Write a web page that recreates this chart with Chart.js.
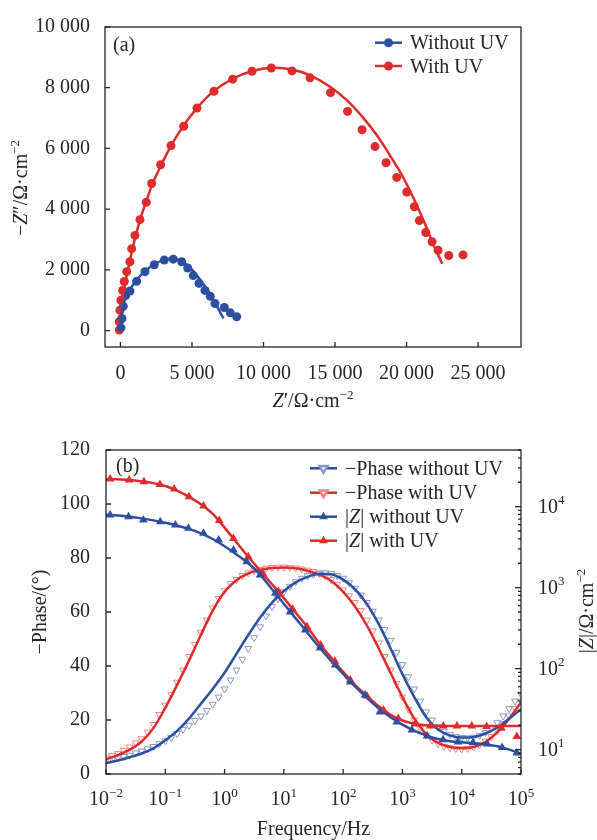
<!DOCTYPE html>
<html>
<head>
<meta charset="utf-8">
<script src="https://cdn.jsdelivr.net/npm/chart.js@4.4.0/dist/chart.umd.min.js"></script>
<style>
  body { margin: 0; background: #fff; }
  .box { position: absolute; left: 0; width: 597px; height: 420px; }
</style>
</head>
<body>
<div class="box" style="top:0"><canvas id="nyquist"></canvas></div>
<div class="box" style="top:420px"><canvas id="bode"></canvas></div>
<script>
// ---- (a) Nyquist data, ohm·cm2 ----
const withoutRe = [40, 100, 200, 360, 664, 1133, 1713, 2364, 3063, 3692, 4280, 4699, 5091, 5489, 5909, 6280, 6608, 7259, 7678, 8126];
const withoutIm = [90, 400, 800, 1150, 1301, 1626, 1941, 2169, 2322, 2354, 2267, 2062, 1811, 1561, 1324, 1128, 891, 761, 585, 455];
const withRe = [-80, -84, -35, 35, 154, 266, 434, 664, 783, 1014, 1364, 1804, 2182, 2811, 3531, 4420, 5350, 6538, 7846, 9196, 10545, 11993, 13252, 14685, 15874, 16888, 17797, 18566, 19315, 20014, 20546, 20895, 21343, 21783, 22203, 22951, 23951];
const withIm = [20, 293, 673, 998, 1324, 1616, 1941, 2267, 2699, 3135, 3655, 4228, 4845, 5463, 6094, 6732, 7330, 7883, 8283, 8543, 8651, 8553, 8325, 7838, 7219, 6614, 6062, 5528, 5047, 4566, 4078, 3623, 3233, 2927, 2647, 2472, 2494];
const withoutFitRe = [0, 80, 200, 400, 700, 1100, 1700, 2350, 3050, 3650, 4250, 4750, 5250, 5750, 6250, 6650, 6950, 7200];
const withoutFitIm = [0, 450, 850, 1150, 1380, 1650, 1950, 2180, 2330, 2370, 2300, 2120, 1870, 1560, 1220, 900, 620, 400];
const withFitRe = [0, 60, 200, 450, 750, 1050, 1400, 1800, 2250, 2850, 3550, 4400, 5350, 6500, 7800, 9200, 10600, 12000, 13300, 14600, 15800, 16900, 17900, 18800, 19700, 20500, 21300, 21900, 22500];
const withFitIm = [0, 600, 1200, 1850, 2500, 3100, 3700, 4250, 4850, 5450, 6100, 6750, 7330, 7880, 8280, 8550, 8660, 8600, 8400, 8050, 7600, 7050, 6450, 5800, 5100, 4350, 3500, 2800, 2200];
const nyqXTicks = [0, 5000, 10000, 15000, 20000, 25000];
const nyqYTicks = [0, 2000, 4000, 6000, 8000, 10000];

// ---- (b) Bode data, frequency as log10(Hz) ----
const phaseLogF = [-2, -1.9, -1.8, -1.7, -1.6, -1.5, -1.4, -1.3, -1.2, -1.1, -1, -0.9, -0.8, -0.7, -0.6, -0.5, -0.4, -0.3, -0.2, -0.1,
  0, 0.1, 0.2, 0.3, 0.4, 0.5, 0.6, 0.7, 0.8, 0.9, 1, 1.1, 1.2, 1.3, 1.4, 1.5, 1.6, 1.7, 1.8, 1.9,
  2, 2.1, 2.2, 2.3, 2.4, 2.5, 2.6, 2.7, 2.8, 2.9, 3, 3.1, 3.2, 3.3, 3.4, 3.5, 3.6, 3.7, 3.8, 3.9,
  4, 4.1, 4.2, 4.3, 4.4, 4.5, 4.6, 4.7, 4.8, 4.9, 5];
const phaseWithout = [5.0, 5.5, 6.0, 6.5, 7.0, 7.8, 8.5, 9.3, 10.2, 11.2, 12.3, 13.5, 15.0, 16.5, 18.0, 19.8, 21.5, 23.5, 25.8, 28.5,
  31.5, 34.8, 38.5, 42.5, 46.5, 50.5, 54.5, 58.5, 62.0, 65.0, 67.5, 69.5, 71.2, 72.5, 73.4, 74.0, 74.4, 74.5, 74.2, 73.5,
  72.5, 70.8, 68.8, 66.3, 63.5, 60.3, 57.0, 53.5, 49.5, 45.0, 40.5, 36.0, 31.5, 27.0, 23.0, 20.0, 17.5, 15.8, 14.6, 13.9,
  13.5, 13.4, 13.6, 14.3, 15.4, 17.0, 19.0, 21.5, 24.2, 27.0, 29.5];
const phaseWith = [6.0, 6.8, 7.6, 8.8, 10.0, 11.5, 13.0, 15.5, 18.3, 22.0, 25.5, 29.5, 34.0, 38.5, 43.5, 48.0, 52.5, 57.0, 61.5, 65.0,
  68.0, 70.5, 72.0, 73.5, 74.5, 75.3, 75.8, 76.2, 76.5, 76.6, 76.6, 76.5, 76.3, 75.9, 75.5, 75.0, 74.3, 73.3, 72.0, 70.3,
  68.2, 66.0, 63.5, 60.5, 57.0, 53.0, 48.5, 43.5, 38.5, 33.5, 28.5, 24.0, 20.0, 17.0, 14.5, 12.5, 11.2, 10.3, 9.7, 9.4,
  9.3, 9.5, 10.0, 10.8, 12.2, 13.8, 16.0, 18.7, 21.5, 24.3, 27.0];
const fitLogF = [-2, -1.8, -1.6, -1.4, -1.2, -1, -0.8, -0.6, -0.4, -0.2, 0, 0.2, 0.4, 0.6, 0.8, 1, 1.2, 1.4,
  1.6, 1.8, 2, 2.2, 2.4, 2.6, 2.8, 3, 3.2, 3.4, 3.6, 3.8, 4, 4.2, 4.4, 4.6, 4.8, 5];
const phaseWithoutFit = [4.0, 5.0, 6.2, 7.6, 9.5, 12.5, 16.0, 20.5, 26.0, 31.5, 37.5, 44.5, 51.5, 58.0, 63.5, 67.8, 71.0, 73.0,
  74.2, 74.0, 72.0, 68.5, 63.0, 55.5, 46.5, 37.0, 28.5, 21.0, 16.5, 14.3, 13.5, 13.7, 15.0, 17.2, 20.5, 24.0];
const phaseWithFit = [5.5, 7.0, 9.0, 12.0, 17.0, 24.5, 33.0, 42.0, 51.5, 60.5, 67.5, 71.8, 74.3, 75.6, 76.3, 76.5, 76.2, 75.3,
  73.8, 71.5, 67.5, 62.0, 55.0, 46.5, 37.5, 28.5, 20.5, 14.8, 11.5, 10.0, 9.5, 10.0, 11.8, 15.5, 20.5, 26.5];
const zWithoutFit = [7940, 7760, 7500, 7160, 6760, 6310, 5820, 5310, 4680, 3980, 3240, 2570, 2000, 1450, 955, 631, 417, 275,
  182, 124, 86.1, 60.3, 43.6, 32.4, 25.1, 20.4, 17.2, 15.0, 13.5, 12.7, 12.3, 12.0, 11.6, 11.0, 10.0, 8.9];
const zWithFit = [22000, 21700, 21300, 20500, 19500, 18000, 15800, 13200, 10700, 8130, 5500, 3630, 2400, 1620, 1100, 741, 490, 324,
  204, 136, 91.2, 63.1, 46.2, 34.3, 26.9, 22.9, 20.9, 20.0, 19.6, 19.5, 19.5, 19.5, 19.5, 19.5, 19.5, 19.5];
const zWithoutLogF = [-1.93, -1.62, -1.37, -1.085, -0.83, -0.61, -0.355, -0.1, 0.15, 0.375, 0.6, 0.855, 1.105, 1.36, 1.61, 1.865,
  2.12, 2.37, 2.62, 2.905, 3.16, 3.415, 3.685, 3.94, 4.19, 4.43, 4.68, 4.93];
const zWithout = [7890, 7520, 6840, 6520, 5930, 5400, 4690, 3870, 2910, 2090, 1430, 851, 501, 300, 180, 111,
  68.4, 47.2, 29.1, 21.9, 17.5, 14.7, 13.2, 12.4, 12.2, 11.7, 10.6, 9.1];
const zWithLogF = [-1.93, -1.61, -1.36, -1.09, -0.85, -0.6, -0.355, -0.09, 0.15, 0.4, 0.65, 0.91, 1.15, 1.39, 1.62, 1.86,
  2.12, 2.4, 2.68, 2.93, 3.21, 3.47, 3.69, 3.92, 4.17, 4.42, 4.67, 4.93];
const zWith = [21900, 21300, 20300, 18700, 16500, 13200, 10200, 6760, 4040, 2410, 1470, 891, 537, 329, 196, 123,
  72.4, 45.9, 30.8, 24.3, 20.7, 19.6, 19.5, 19.5, 19.5, 19.3, 18.4, 14.5];
const freqTicks = [0.01, 0.1, 1, 10, 100, 1000, 10000, 100000];
const phaseTicks = [0, 20, 40, 60, 80, 100, 120];
const zTicks = [10, 100, 1000, 10000];

const BLUE = '#2c4f9f';
const RED = '#de2b2b';
const BLUE_OPEN = '#8797c8';
const RED_OPEN = '#ef8585';
const INK = '#262626';
const FONT = '"Liberation Serif", "Times New Roman", serif';
const FS = 20;

function pts(xs, ys, fx) {
  return xs.map((v, i) => ({ x: fx ? fx(v) : v, y: ys[i] }));
}
const pow10 = v => Math.pow(10, v);

function fmtThousands(v) {
  return String(v).replace(/\B(?=(\d{3})+(?!\d))/g, ' ');
}

// text with italic / superscript pieces
function fontOf(kind, size) {
  if (kind === 'i') return 'italic ' + size + 'px ' + FONT;
  if (kind === 's') return Math.round(size * 0.65) + 'px ' + FONT;
  return size + 'px ' + FONT;
}
function drawRich(ctx, parts, x, y, align, rot) {
  ctx.save();
  ctx.translate(x, y);
  if (rot) ctx.rotate(rot);
  ctx.fillStyle = INK;
  ctx.textBaseline = 'alphabetic';
  ctx.textAlign = 'left';
  let w = 0;
  parts.forEach(p => { ctx.font = fontOf(p[1], FS); w += ctx.measureText(p[0]).width; });
  let cx = align === 'center' ? -w / 2 : align === 'right' ? -w : 0;
  parts.forEach(p => {
    ctx.font = fontOf(p[1], FS);
    ctx.fillText(p[0], cx, p[1] === 's' ? -FS * 0.42 : 0);
    cx += ctx.measureText(p[0]).width;
  });
  ctx.restore();
}

function legendRow(ctx, x, y, color, marker, parts) {
  ctx.save();
  ctx.strokeStyle = color;
  ctx.lineWidth = 2.5;
  ctx.beginPath();
  ctx.moveTo(x, y);
  ctx.lineTo(x + 27, y);
  ctx.stroke();
  ctx.fillStyle = marker.fill;
  ctx.strokeStyle = marker.stroke;
  Chart.helpers.drawPoint(ctx, marker, x + 13.5, y);
  ctx.restore();
  drawRich(ctx, parts, x + 35, y + 6.5, 'left');
}

function frame(ctx, a) {
  ctx.strokeStyle = INK;
  ctx.lineWidth = 1.3;
  ctx.strokeRect(a.left, a.top, a.right - a.left, a.bottom - a.top);
}

Chart.defaults.font.family = FONT;
Chart.defaults.font.size = FS;
Chart.defaults.color = INK;

// ---------------- (a) ----------------
const nyquistDeco = {
  id: 'nyquistDeco',
  afterDraw(chart) {
    const { ctx, chartArea: a, scales: { x, y } } = chart;
    ctx.save();
    frame(ctx, a);
    ctx.beginPath();
    nyqXTicks.forEach(v => { const p = x.getPixelForValue(v); ctx.moveTo(p, a.bottom); ctx.lineTo(p, a.bottom - 5); });
    nyqYTicks.forEach(v => { const p = y.getPixelForValue(v); ctx.moveTo(a.left, p); ctx.lineTo(a.left + 5, p); });
    ctx.stroke();
    ctx.restore();

    drawRich(ctx, [['(a)', '']], a.left + 8, 51, 'left');
    legendRow(ctx, 375, 42.7, BLUE, { pointStyle: 'circle', radius: 4.5, borderWidth: 0, fill: BLUE, stroke: BLUE }, [['Without UV', '']]);
    legendRow(ctx, 375, 66, RED, { pointStyle: 'circle', radius: 4.5, borderWidth: 0, fill: RED, stroke: RED }, [['With UV', '']]);

    drawRich(ctx, [['Z', 'i'], ['′/Ω·cm', ''], ['−2', 's']], (a.left + a.right) / 2, 407, 'center');
    drawRich(ctx, [['−', ''], ['Z', 'i'], ['″/Ω·cm', ''], ['−2', 's']], 27, 188, 'center', -Math.PI / 2);
  }
};

new Chart(document.getElementById('nyquist'), {
  type: 'scatter',
  data: {
    datasets: [
      { label: 'Without UV fit', data: pts(withoutFitRe, withoutFitIm), showLine: true, pointRadius: 0,
        borderColor: BLUE, borderWidth: 2.5, tension: 0.4, order: 1 },
      { label: 'With UV fit', data: pts(withFitRe, withFitIm), showLine: true, pointRadius: 0,
        borderColor: RED, borderWidth: 2.5, tension: 0.4, order: 1 },
      { label: 'Without UV', data: pts(withoutRe, withoutIm), pointRadius: 4.5, borderWidth: 0,
        backgroundColor: BLUE, order: 2 },
      { label: 'With UV', data: pts(withRe, withIm), pointRadius: 4.5, borderWidth: 0,
        backgroundColor: RED, order: 2 }
    ]
  },
  options: {
    responsive: true,
    maintainAspectRatio: false,
    animation: false,
    layout: { padding: { top: 23, right: 76, bottom: 23, left: 0 } },
    plugins: { legend: { display: false }, tooltip: { enabled: false } },
    scales: {
      x: {
        type: 'linear', min: -1080, max: 28000,
        grid: { display: false, drawTicks: false }, border: { display: false },
        afterBuildTicks: s => { s.ticks = nyqXTicks.map(v => ({ value: v })); },
        afterFit: s => { s.height = 50; },
        ticks: { autoSkip: false, maxRotation: 0, padding: 15, callback: v => fmtThousands(v) }
      },
      y: {
        type: 'linear', min: -540, max: 10000,
        grid: { display: false, drawTicks: false }, border: { display: false },
        afterBuildTicks: s => { s.ticks = nyqYTicks.map(v => ({ value: v })); },
        afterFit: s => { s.width = 105; },
        ticks: { autoSkip: false, padding: 15, callback: v => fmtThousands(v) }
      }
    }
  },
  plugins: [nyquistDeco]
});

// ---------------- (b) ----------------
const bodeDeco = {
  id: 'bodeDeco',
  afterDraw(chart) {
    const { ctx, chartArea: a, scales: { x, y, y2 } } = chart;
    ctx.save();
    frame(ctx, a);
    ctx.beginPath();
    freqTicks.forEach(v => { const p = x.getPixelForValue(v); ctx.moveTo(p, a.bottom); ctx.lineTo(p, a.bottom - 5); });
    phaseTicks.forEach(v => { const p = y.getPixelForValue(v); ctx.moveTo(a.left, p); ctx.lineTo(a.left + 5, p); });
    for (let e = 0; e <= 4; e++) {
      for (let m = 1; m <= 9; m++) {
        const v = m * Math.pow(10, e);
        if (v < y2.min || v > y2.max) continue;
        const p = y2.getPixelForValue(v);
        ctx.moveTo(a.right, p);
        ctx.lineTo(a.right - (m === 1 ? 6 : 3), p);
      }
    }
    ctx.stroke();
    ctx.restore();

    freqTicks.forEach(v => {
      const e = Math.round(Math.log10(v));
      drawRich(ctx, [['10', ''], [(e < 0 ? '−' : '') + Math.abs(e), 's']], x.getPixelForValue(v), 385, 'center');
    });
    zTicks.forEach(v => {
      const e = Math.round(Math.log10(v));
      drawRich(ctx, [['10', ''], [String(e), 's']], 538, y2.getPixelForValue(v) + 6, 'left');
    });

    drawRich(ctx, [['(b)', '']], a.left + 10, 52, 'left');
    const openDown = c => ({ pointStyle: 'triangle', rotation: 180, radius: 4.5, borderWidth: 1.2, fill: '#fff', stroke: c });
    const fillUp = c => ({ pointStyle: 'triangle', rotation: 0, radius: 5, borderWidth: 0, fill: c, stroke: c });
    legendRow(ctx, 310, 48.3, BLUE, openDown(BLUE_OPEN), [['−Phase without UV', '']]);
    legendRow(ctx, 310, 72.7, RED, openDown(RED_OPEN), [['−Phase with UV', '']]);
    legendRow(ctx, 310, 96.7, BLUE, fillUp(BLUE), [['|', ''], ['Z', 'i'], ['| without UV', '']]);
    legendRow(ctx, 310, 120.7, RED, fillUp(RED), [['|', ''], ['Z', 'i'], ['| with UV', '']]);

    drawRich(ctx, [['Frequency/Hz', '']], (a.left + a.right) / 2, 415, 'center');
    drawRich(ctx, [['−Phase/(°)', '']], 46, 192, 'center', -Math.PI / 2);
    drawRich(ctx, [['|', ''], ['Z', 'i'], ['|/Ω·cm', ''], ['−2', 's']], 593, 191, 'center', -Math.PI / 2);
  }
};

const openTri = c => ({ showLine: false, pointStyle: 'triangle', rotation: 180, pointRadius: 4,
  pointBorderWidth: 1, pointBorderColor: c, pointBackgroundColor: 'rgba(255,255,255,0)' });
const fitLine = c => ({ showLine: true, pointRadius: 0, borderColor: c, borderWidth: 2.5,
  cubicInterpolationMode: 'monotone' });
const filledTri = c => ({ showLine: false, pointStyle: 'triangle', pointRadius: 5,
  pointBorderWidth: 0, pointBackgroundColor: c });

new Chart(document.getElementById('bode'), {
  type: 'scatter',
  data: {
    datasets: [
      Object.assign({ label: '−Phase without UV', data: pts(phaseLogF, phaseWithout, pow10), yAxisID: 'y', order: 4 }, openTri(BLUE_OPEN)),
      Object.assign({ label: '−Phase with UV', data: pts(phaseLogF, phaseWith, pow10), yAxisID: 'y', order: 4 }, openTri(RED_OPEN)),
      Object.assign({ label: 'phase fit without', data: pts(fitLogF, phaseWithoutFit, pow10), yAxisID: 'y', order: 3 }, fitLine(BLUE)),
      Object.assign({ label: 'phase fit with', data: pts(fitLogF, phaseWithFit, pow10), yAxisID: 'y', order: 3 }, fitLine(RED)),
      Object.assign({ label: '|Z| fit without', data: pts(fitLogF, zWithoutFit, pow10), yAxisID: 'y2', order: 2 }, fitLine(BLUE)),
      Object.assign({ label: '|Z| fit with', data: pts(fitLogF, zWithFit, pow10), yAxisID: 'y2', order: 2 }, fitLine(RED)),
      Object.assign({ label: '|Z| without UV', data: pts(zWithoutLogF, zWithout, pow10), yAxisID: 'y2', order: 1 }, filledTri(BLUE)),
      Object.assign({ label: '|Z| with UV', data: pts(zWithLogF, zWith, pow10), yAxisID: 'y2', order: 1 }, filledTri(RED))
    ]
  },
  options: {
    responsive: true,
    maintainAspectRatio: false,
    animation: false,
    layout: { padding: { top: 30, right: 0, bottom: 16, left: 0 } },
    plugins: { legend: { display: false }, tooltip: { enabled: false } },
    scales: {
      x: {
        type: 'logarithmic', min: 0.01, max: 100000,
        grid: { display: false, drawTicks: false }, border: { display: false },
        afterFit: s => { s.height = 50; },
        ticks: { display: false }
      },
      y: {
        type: 'linear', position: 'left', min: 0, max: 120,
        grid: { display: false, drawTicks: false }, border: { display: false },
        afterBuildTicks: s => { s.ticks = phaseTicks.map(v => ({ value: v })); },
        afterFit: s => { s.width = 106; },
        ticks: { autoSkip: false, padding: 16 }
      },
      y2: {
        type: 'logarithmic', position: 'right', min: 5, max: 50000,
        grid: { display: false, drawTicks: false }, border: { display: false },
        afterFit: s => { s.width = 76; },
        ticks: { display: false }
      }
    }
  },
  plugins: [bodeDeco]
});
</script>
</body>
</html>
